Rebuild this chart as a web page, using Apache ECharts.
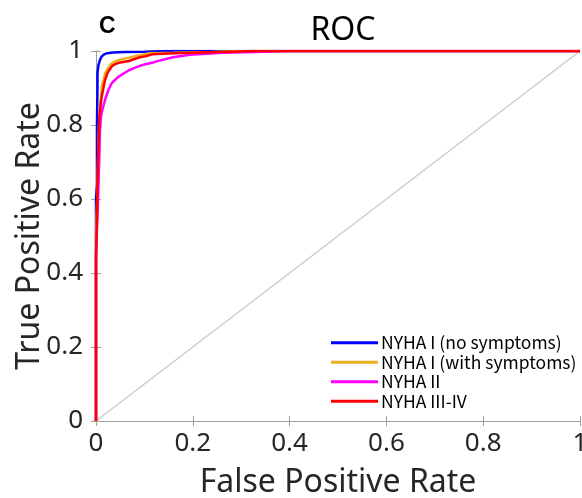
<!DOCTYPE html>
<html><head><meta charset="utf-8">
<script src="https://cdn.jsdelivr.net/npm/echarts@6/dist/echarts.min.js"></script>
<style>html,body{margin:0;padding:0;background:#fff}#c{width:582px;height:498px}</style>
</head><body><div id="c"></div>
<script>
const seriesNames = ['NYHA I (no symptoms)', 'NYHA I (with symptoms)', 'NYHA II', 'NYHA III-IV'];
const blueRoc = [[0,0],[0,0.6],[0.002,0.64],[0.002,0.8],[0.003,0.9],[0.003,0.94],[0.005,0.962],[0.008,0.975],[0.011,0.984],[0.016,0.99],[0.023,0.994],[0.035,0.996],[0.06,0.997],[0.1,0.998],[0.15,1],[1,1]];
const orangeRoc = [[0,0],[0,0.5],[0.003,0.62],[0.005,0.75],[0.007,0.82],[0.009,0.86],[0.012,0.905],[0.016,0.925],[0.019,0.94],[0.024,0.952],[0.03,0.964],[0.038,0.971],[0.047,0.976],[0.068,0.982],[0.08,0.986],[0.095,0.99],[0.112,0.994],[0.16,0.995],[0.24,0.997],[0.3,1],[1,1]];
const magentaRoc = [[0,0],[0,0.45],[0.003,0.55],[0.005,0.633],[0.007,0.72],[0.008,0.78],[0.01,0.82],[0.012,0.835],[0.015,0.85],[0.019,0.869],[0.026,0.896],[0.032,0.912],[0.037,0.919],[0.046,0.93],[0.05,0.935],[0.063,0.944],[0.068,0.948],[0.081,0.955],[0.091,0.96],[0.102,0.964],[0.116,0.968],[0.125,0.972],[0.159,0.983],[0.194,0.99],[0.262,0.995],[0.33,0.997],[0.4,1],[1,1]];
const redRoc = [[0,0],[0,0.44],[0.002,0.55],[0.003,0.64],[0.005,0.74],[0.007,0.824],[0.01,0.86],[0.012,0.878],[0.016,0.905],[0.019,0.923],[0.023,0.938],[0.026,0.946],[0.033,0.959],[0.04,0.965],[0.047,0.968],[0.068,0.973],[0.081,0.979],[0.091,0.983],[0.102,0.986],[0.116,0.991],[0.15,0.993],[0.19,0.995],[0.26,0.997],[0.33,1],[1,1]];
const diagonal = [[0,0],[1,1]];
const colors = ['#0000ff', '#edb120', '#ff00ff', '#ff0000'];

const FONT = '"Noto Sans", sans-serif';
const chart = echarts.init(document.getElementById('c'), null, {renderer: 'canvas'});
const axisCommon = {
  min: 0, max: 1, interval: 0.2,
  axisLine: {show: true, lineStyle: {color: '#a0a0a0', width: 1}},
  axisTick: {show: true, inside: true, length: 5, lineStyle: {color: '#a0a0a0'}},
  splitLine: {show: false}
};
const mkLine = (name, data, color) => ({
  name, type: 'line', data, showSymbol: false, symbol: 'none', animation: false,
  lineStyle: {color, width: 2.5}, itemStyle: {color}
});
chart.setOption({
  animation: false,
  grid: {left: 96, top: 51, right: 2, bottom: 77, containLabel: false, outerBoundsMode: 'none'},
  title: [
    {text: 'ROC', left: 338, textAlign: 'center', top: 10, textStyle: {fontFamily: FONT, fontSize: 32, fontWeight: 'normal', color: '#000'}},
    {text: 'C', left: 94, top: 10, textStyle: {fontFamily: 'Liberation Sans, Arial, sans-serif', fontSize: 23, fontWeight: 'bold', color: '#000'}}
  ],
  legend: {
    orient: 'vertical', left: 326, top: 328, itemGap: 0,
    itemWidth: 47, itemHeight: 3, icon: 'rect',
    data: seriesNames,
    textStyle: {fontFamily: '"Noto Sans CJK JP", sans-serif', fontSize: 17.5, color: '#000', lineHeight: 19.5, padding: [0,0,0,-2]},
    backgroundColor: 'rgba(255,255,255,0)'
  },
  xAxis: [
    Object.assign({}, axisCommon, {type: 'value', position: 'bottom',
      name: 'False Positive Rate', nameLocation: 'middle', nameGap: 46, nameMoveOverlap: false,
      nameTextStyle: {fontFamily: FONT, fontSize: 32, color: '#262626'},
      axisLabel: {fontFamily: FONT, fontSize: 26, color: '#262626', margin: 10}}),
    Object.assign({}, axisCommon, {type: 'value', position: 'top', axisLabel: {show: false}})
  ],
  yAxis: [
    Object.assign({}, axisCommon, {type: 'value', position: 'left',
      name: 'True Positive Rate', nameLocation: 'middle', nameGap: 50, nameMoveOverlap: false,
      nameTextStyle: {fontFamily: FONT, fontSize: 32, color: '#262626'},
      axisLabel: {fontFamily: FONT, fontSize: 26, color: '#262626', margin: 13}}),
    Object.assign({}, axisCommon, {type: 'value', position: 'right', axisLabel: {show: false}})
  ],
  series: [
    {name: 'diag', type: 'line', data: diagonal, showSymbol: false, symbol: 'none', silent: true,
      lineStyle: {color: '#c8c8c8', width: 1.2}, z: 1},
    mkLine(seriesNames[0], blueRoc, colors[0]),
    mkLine(seriesNames[1], orangeRoc, colors[1]),
    mkLine(seriesNames[2], magentaRoc, colors[2]),
    mkLine(seriesNames[3], redRoc, colors[3])
  ]
});
</script></body></html>
